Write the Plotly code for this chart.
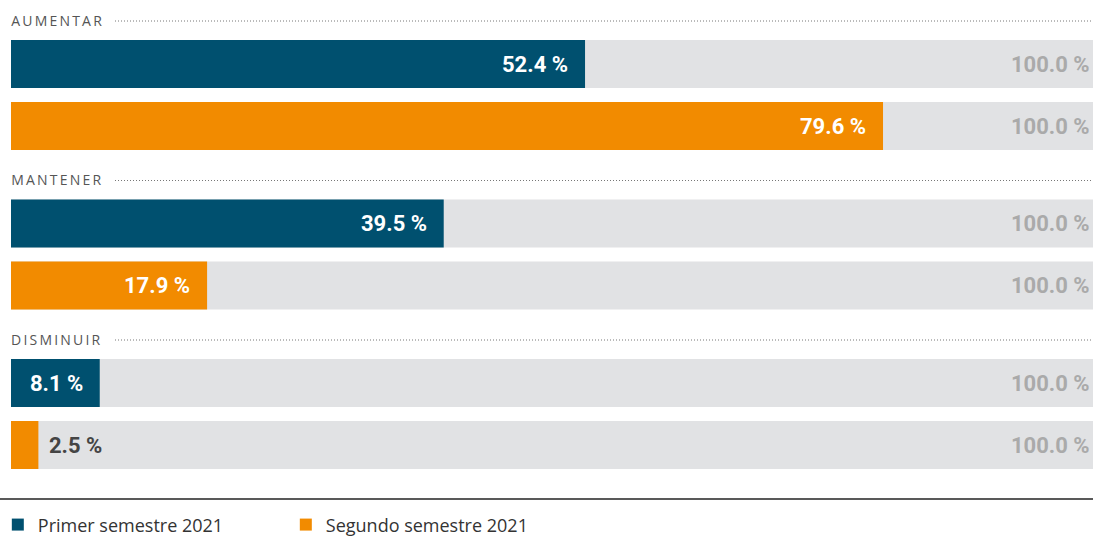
import plotly.graph_objects as go

groups = ["AUMENTAR", "MANTENER", "DISMINUIR"]
series = ["Primer semestre 2021", "Segundo semestre 2021"]
primer = [52.4, 39.5, 8.1]
segundo = [79.6, 17.9, 2.5]
total = [100.0, 100.0, 100.0]

colors = ["#00506f", "#f28b00"]
W, H = 1093, 538
PX = 10.955  # pixels per percent point (full bar runs past the right edge)

# vertical layout in pixel units (y axis runs 0..538 top-down)
def ypos(g, s):
    return 64 + g * 159.5 + s * 62

fig = go.Figure()

ys_all = [ypos(g, s) for g in range(3) for s in range(2)]
fig.add_trace(go.Bar(
    x=[total[g] for g in range(3) for s in range(2)], y=ys_all, orientation="h",
    width=48, marker=dict(color="#e1e2e4", line_width=0), showlegend=False, hoverinfo="skip"))

for s, (name, vals) in enumerate(zip(series, [primer, segundo])):
    fig.add_trace(go.Bar(
        x=vals, y=[ypos(g, s) for g in range(3)], orientation="h", width=48,
        name=name, marker=dict(color=colors[s], line_width=0)))

num_font = dict(family="Roboto", size=22, weight="bold")
anns = []
shapes = []
for g, grp in enumerate(groups):
    ly = ypos(g, 0) - 44
    # letter spacing is added in the page script, text grows to both sides
    anns.append(dict(x=0, y=ly, xref="x", yref="y", text=grp, showarrow=False,
                     xanchor="left", yanchor="middle", xshift=-2 + 1.1 * len(grp),
                     font=dict(family="Open Sans", size=14, color="#555555")))
    shapes.append(dict(type="line", xref="paper", yref="y", x0=115 / W, x1=1, y0=ly + 1, y1=ly + 1,
                       line=dict(color="#777777", width=1, dash="1px,2px")))
    for s, vals in enumerate([primer, segundo]):
        v = vals[g]
        yy = ypos(g, s)
        if v >= 6:
            anns.append(dict(x=v, y=yy, xref="x", yref="y", text=f"{v:.1f} %", showarrow=False,
                             xanchor="right", xshift=-15,
                             font=dict(num_font, color="white")))
        else:
            anns.append(dict(x=v, y=yy, xref="x", yref="y", text=f"{v:.1f} %", showarrow=False,
                             xanchor="left", xshift=9,
                             font=dict(num_font, color="#444444")))
        # the 100 % end lies past the visible edge, so pin its label to the right border
        anns.append(dict(x=1, y=yy, xref="paper", yref="y", text=f"{total[g]:.1f} %", showarrow=False,
                         xanchor="right", xshift=-1,
                         font=dict(num_font, color="#aaaaaa")))

shapes.append(dict(type="line", xref="paper", yref="y", x0=0, x1=1, y0=499, y1=499,
                   line=dict(color="#222222", width=1.5)))

lo = -11 / PX
fig.update_layout(
    width=W, height=H, margin=dict(l=0, r=0, t=0, b=0, autoexpand=False),
    plot_bgcolor="white", paper_bgcolor="white", barmode="overlay",
    xaxis=dict(range=[lo, lo + W / PX], visible=False, fixedrange=True),
    yaxis=dict(range=[H, 0], visible=False, fixedrange=True),
    annotations=anns, shapes=shapes,
    legend=dict(orientation="h", x=-0.002, y=-0.01, yanchor="bottom", xanchor="left",
                bgcolor="rgba(0,0,0,0)",
                entrywidth=243, entrywidthmode="pixels", traceorder="normal",
                font=dict(family="Open Sans", size=18, color="#333333")),
)

post = """
document.body.style.margin = '0';
var labels = %s;
document.querySelectorAll('.annotation-text').forEach(function (t) {
    if (labels.indexOf(t.textContent) >= 0) { t.style.letterSpacing = '2.2px'; }
});
""" % str(groups)

fig.write_html("out.html", post_script=post, config={"displayModeBar": False})
